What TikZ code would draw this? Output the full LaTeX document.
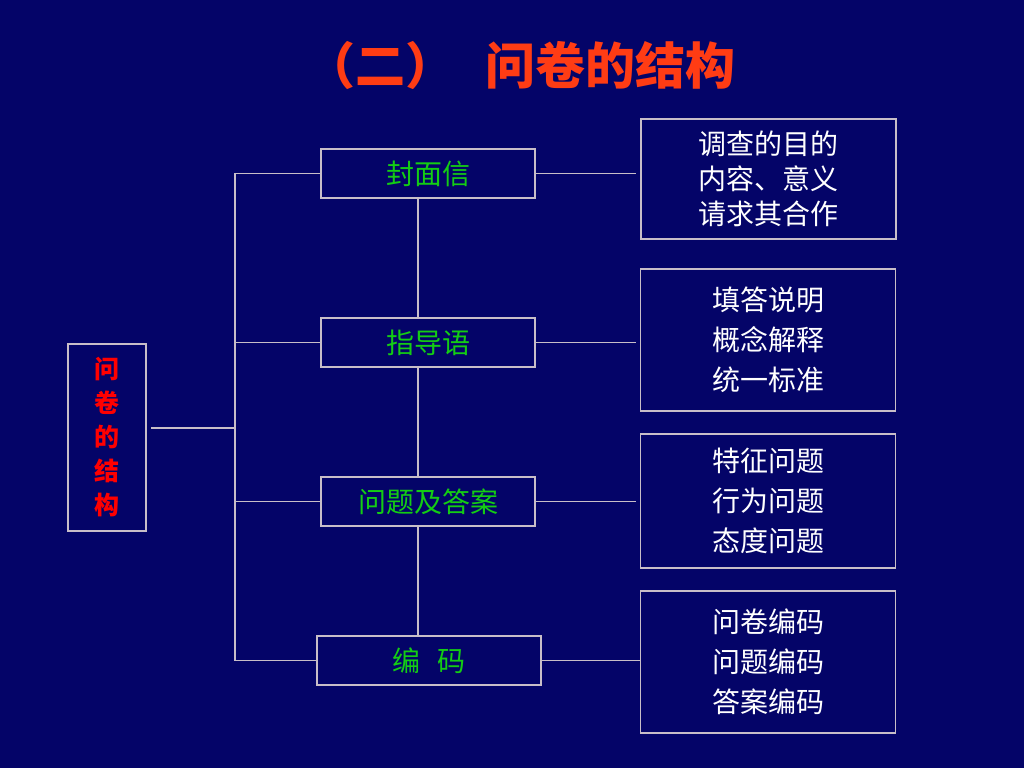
\documentclass[tikz,border=0pt]{standalone}
\usepackage{fontspec}
\newfontfamily\cjk{Noto Sans CJK SC}
\usetikzlibrary{positioning}
\definecolor{navy}{RGB}{4,4,104}
\definecolor{linec}{RGB}{200,190,200}
\definecolor{titlered}{RGB}{255,60,20}
\definecolor{partgreen}{RGB}{20,205,20}

\begin{document}
\begin{tikzpicture}[x=1pt,y=-1pt,
  box/.style={draw=linec,line width=1.2pt,inner sep=0pt},
  part/.style={box,minimum width=214pt,minimum height=49pt,text=partgreen,font=\cjk\fontsize{28}{34}\selectfont},
  detail/.style={box,minimum width=255pt,text=white,align=center,font=\cjk\fontsize{28}{40}\selectfont},
  link/.style={draw=linec,line width=1.2pt}]
  \fill[navy] (0,0) rectangle (1024,768);
  \useasboundingbox (0,0) rectangle (1024,768);

  % Title
  \node[text=titlered,font=\cjk\bfseries\fontsize{50}{54}\selectfont] (title) at (520,65) {（二）\hspace{0.6em}问卷的结构};

  % Root box
  \node[box,minimum width=78pt,minimum height=187pt,text=red,align=center,
        font=\cjk\bfseries\fontsize{25}{34}\selectfont] (root) at (107,437.5) {问\\卷\\的\\结\\构};

  % Parts of the questionnaire
  \node[part] (cover) at (428,173.5) {封面信};
  \node[part] (guide) at (428,342.5) {指导语};
  \node[part] (qa)    at (428,501.5) {问题及答案};
  \node[part,minimum width=224pt] (code) at (429,660.5) {编\hspace{0.6em}码};

  % Details on the right
  \node[detail,minimum height=120pt,font=\cjk\fontsize{28}{35}\selectfont] (aim) at (768.5,179) {调查的目的\\内容、意义\\请求其合作};
  \node[detail,minimum height=142pt] (note) at (768,340) {填答说明\\概念解释\\统一标准};
  \node[detail,minimum height=134pt] (item) at (768,501) {特征问题\\行为问题\\态度问题};
  \node[detail,minimum height=142pt] (num)  at (768,662) {问卷编码\\问题编码\\答案编码};

  % Trunk and branches
  \coordinate (trunk) at (235,0);
  \coordinate (spine) at (418,0);
  \coordinate (gapR) at (636,0);
  \coordinate (rootOut) at (151,428);
  \draw[link] (cover.west) -| (trunk |- code.west) -- (code.west);
  \draw[link] (rootOut) -- (trunk |- rootOut);
  \draw[link] (guide.west) -- (trunk |- guide.west);
  \draw[link] (qa.west) -- (trunk |- qa.west);
  \foreach \a/\b in {cover/guide,guide/qa,qa/code}
    \draw[link] (\a.south -| spine) -- (\b.north -| spine);

  % Links to the details
  \foreach \m in {cover,guide,qa}
    \draw[link] (\m.east) -- (\m.east -| gapR);
  \draw[link] (code.east) -- (code.east -| num.west);
\end{tikzpicture}
\end{document}
